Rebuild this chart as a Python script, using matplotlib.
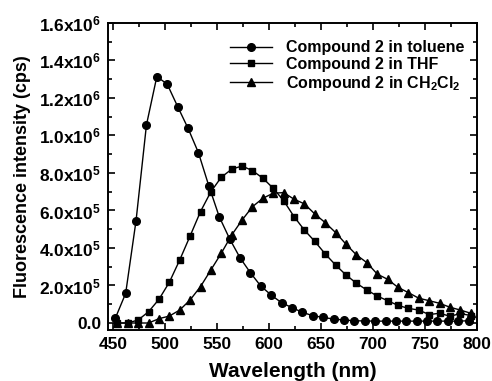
import numpy as np
import matplotlib.pyplot as plt
from matplotlib.ticker import MultipleLocator

plt.rcParams['font.family'] = ['Liberation Sans', 'DejaVu Sans']
plt.rcParams['font.weight'] = 'bold'
plt.rcParams['mathtext.fontset'] = 'custom'
plt.rcParams['mathtext.rm'] = 'Liberation Sans:bold'
plt.rcParams['mathtext.it'] = 'Liberation Sans:bold'
plt.rcParams['mathtext.bf'] = 'Liberation Sans:bold'
plt.rcParams['mathtext.default'] = 'rm'

# Data, intensity in units of 1e6 cps
wl_toluene = np.arange(452, 793, 10)
toluene = [0.025, 0.158, 0.546, 1.056, 1.314, 1.273, 1.154, 1.038, 0.908, 0.731,
           0.567, 0.449, 0.348, 0.268, 0.197, 0.149, 0.108, 0.082, 0.057, 0.039,
           0.030, 0.021, 0.016, 0.012, 0.011, 0.010, 0.010, 0.010, 0.010, 0.010,
           0.010, 0.010, 0.010, 0.010, 0.012]

wl_thf = np.arange(454, 795, 10)
thf = [0.0, 0.0, 0.016, 0.060, 0.126, 0.217, 0.336, 0.464, 0.594, 0.700,
       0.777, 0.820, 0.837, 0.812, 0.772, 0.718, 0.652, 0.567, 0.495, 0.435,
       0.368, 0.309, 0.256, 0.212, 0.176, 0.144, 0.119, 0.094, 0.078, 0.069,
       0.045, 0.052, 0.036, 0.050, 0.040]

wl_dcm = np.arange(454, 795, 10)
dcm = [0.0, 0.0, 0.0, 0.0, 0.023, 0.037, 0.069, 0.123, 0.194, 0.283,
       0.372, 0.469, 0.549, 0.620, 0.665, 0.692, 0.695, 0.660, 0.635, 0.581,
       0.535, 0.482, 0.420, 0.363, 0.322, 0.261, 0.233, 0.190, 0.162, 0.132,
       0.119, 0.105, 0.084, 0.069, 0.052]

labels = ['Compound 2 in toluene', 'Compound 2 in THF',
          'Compound 2 in CH$_2$Cl$_2$']

y_ticks = [0.0, 0.2e6, 0.4e6, 0.6e6, 0.8e6, 1.0e6, 1.2e6, 1.4e6, 1.6e6]
y_ticklabels = ['0.0', '2.0x10$^5$', '4.0x10$^5$', '6.0x10$^5$', '8.0x10$^5$',
                '1.0x10$^6$', '1.2x10$^6$', '1.4x10$^6$', '1.6x10$^6$']
x_ticks = [450, 500, 550, 600, 650, 700, 750, 800]

fig = plt.figure(figsize=(4.92, 3.81), dpi=100)
ax = fig.add_axes([0.2195, 0.134, 0.75, 0.806])

ax.plot(wl_toluene, np.array(toluene) * 1e6, '-o', color='black', lw=1.0,
        markersize=5.5, label=labels[0])
ax.plot(wl_thf, np.array(thf) * 1e6, '-s', color='black', lw=1.0,
        markersize=5.0, label=labels[1])
ax.plot(wl_dcm, np.array(dcm) * 1e6, '-^', color='black', lw=1.0,
        markersize=6.0, label=labels[2])

ax.set_xlim(445, 800)
ax.set_ylim(-0.037e6, 1.6e6)
ax.set_xticks(x_ticks)
ax.set_xticklabels([str(v) for v in x_ticks], fontweight='bold')
ax.set_yticks(y_ticks)
ax.set_yticklabels(y_ticklabels, fontweight='bold')
ax.xaxis.set_minor_locator(MultipleLocator(25))
ax.yaxis.set_minor_locator(MultipleLocator(0.1e6))
ax.tick_params(which='both', direction='in', top=True, right=True,
               labelsize=12.5, width=1.2)
ax.tick_params(which='major', length=5, pad=5)
ax.tick_params(which='minor', length=3)
for s in ax.spines.values():
    s.set_linewidth(1.4)

ax.set_xlabel('Wavelength (nm)', fontsize=15, fontweight='bold', labelpad=7)
ax.set_ylabel('Fluorescence intensity (cps)', fontsize=13, fontweight='bold')
ax.yaxis.set_label_coords(-0.21, 0.50)

ax.legend(loc='upper right', bbox_to_anchor=(1.005, 0.99), frameon=False,
          fontsize=11.5, handlelength=2.6, handletextpad=0.9, labelspacing=0.1)

fig.savefig('out.png', dpi=100)
